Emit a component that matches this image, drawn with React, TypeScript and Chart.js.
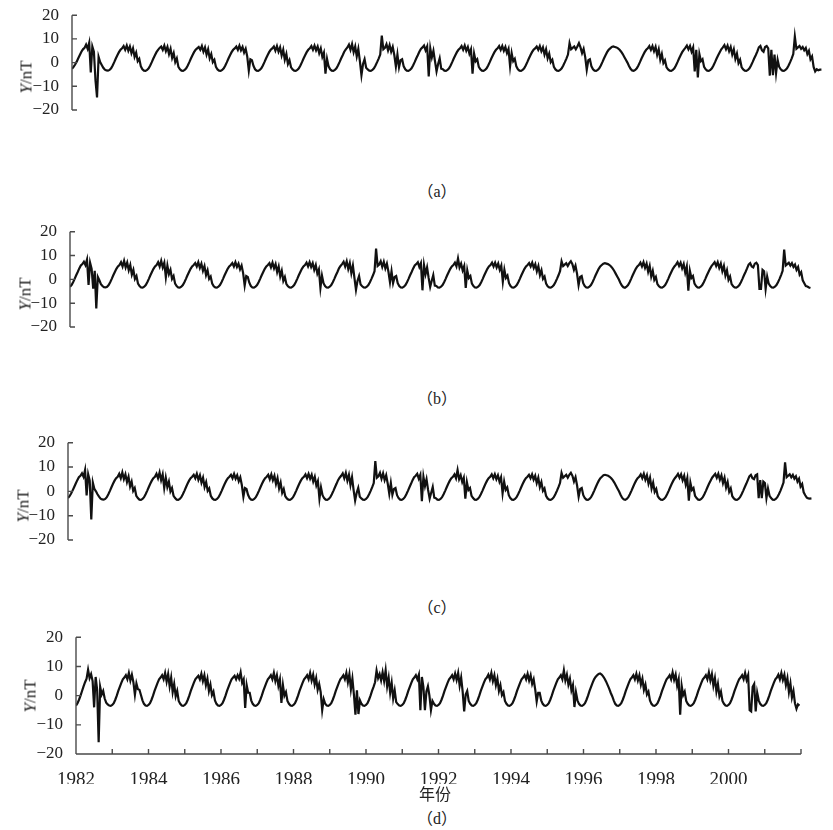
import React, { useEffect, useRef } from 'react';
import { Chart, registerables } from 'chart.js';
Chart.register(...registerables);

// ---------------- data (24 samples per year, 1982-2001) ----------------
const START_YEAR = 1982;
const END_YEAR = 2002;
const Y_TICKS = [-20, -10, 0, 10, 20];
const X_TICK_YEARS = [1982, 1983, 1984, 1985, 1986, 1987, 1988, 1989, 1990, 1991, 1992, 1993, 1994, 1995, 1996, 1997, 1998, 1999, 2000, 2001, 2002];
const X_LABEL_YEARS = [1982, 1984, 1986, 1988, 1990, 1992, 1994, 1996, 1998, 2000];
const PANEL_LETTERS = ['a', 'b', 'c', 'd'];
const X_TITLE = '年份';

const seriesA = [
  [-2.6,-1.8,-0.8,0.4,1.8,3.2,4.6,5.6,6.2,7.6,5.8,8.4,-4.2,6.8,4.6,-7.4,-14.7,2.4,0.2,-1.0,-2.2,-3.0,-3.3,-3.4],
  [-3.1,-2.4,-1.2,0.2,1.7,3.1,4.4,5.4,6.0,7.0,5.4,7.2,5.0,6.8,4.0,6.0,2.4,4.2,0.6,1.6,-1.6,-2.8,-3.4,-3.5],
  [-3.1,-2.4,-1.2,0.2,1.7,3.1,4.4,5.4,6.2,6.8,5.4,7.2,4.8,6.6,3.6,5.8,2.0,4.0,0.2,1.8,-1.8,-2.8,-3.4,-3.5],
  [-3.1,-2.4,-1.2,0.2,1.7,3.1,4.4,5.4,6.0,6.6,5.4,7.0,4.6,6.4,3.4,5.6,1.8,3.6,0.2,1.2,-1.8,-2.9,-3.4,-3.5],
  [-3.1,-2.4,-1.2,0.2,1.7,3.1,4.4,5.4,6.0,6.8,5.4,7.2,5.2,6.6,4.2,5.8,2.6,-3.4,1.4,1.0,-1.4,-2.8,-3.4,-3.5],
  [-3.1,-2.4,-1.2,0.2,1.7,3.1,4.4,5.4,6.0,6.8,5.0,7.0,4.6,6.4,3.0,5.4,1.2,3.6,-0.6,1.0,-2.0,-2.9,-3.4,-3.5],
  [-3.1,-2.4,-1.2,0.2,1.7,3.1,4.4,5.4,6.0,7.0,5.4,7.2,5.2,6.8,4.0,6.0,2.4,4.2,-4.7,1.6,-1.6,-2.8,-3.4,-3.5],
  [-3.1,-2.4,-1.2,0.2,1.7,3.1,4.6,5.6,6.4,7.6,5.4,7.8,4.4,6.8,2.6,5.8,0.6,-5.3,-0.6,1.4,-2.2,-2.9,-3.4,-3.5],
  [-3.1,-2.4,-1.2,0.2,1.7,3.4,11.4,5.6,6.2,7.8,5.2,7.4,4.6,6.6,3.2,-1.6,3.4,-2.0,1.0,1.4,-1.6,-2.8,-3.4,-3.5],
  [-3.1,-2.4,-1.2,0.2,1.7,3.1,4.6,5.8,6.4,7.2,5.2,6.8,-5.8,6.0,2.2,5.0,0.6,-3.7,-0.6,1.8,-2.6,-2.8,-3.4,-3.5],
  [-3.1,-2.4,-1.2,0.2,1.7,3.1,4.4,5.4,6.0,7.0,5.4,7.2,5.0,6.6,3.8,5.6,-4.7,3.8,0.6,1.4,-1.8,-2.8,-3.4,-3.5],
  [-3.1,-2.4,-1.2,0.2,1.7,3.1,4.4,5.4,6.0,7.0,5.4,7.0,5.0,6.6,4.0,5.8,-1.5,4.0,0.6,1.6,-1.6,-2.8,-3.4,-3.5],
  [-3.1,-2.4,-1.2,0.2,1.7,3.1,4.4,5.4,6.0,6.8,5.4,7.0,4.8,6.4,3.4,5.6,1.8,3.8,0.2,1.2,-1.8,-2.9,-3.4,-3.5],
  [-3.1,-2.4,-1.2,0.2,1.7,3.4,8.2,5.6,6.2,6.8,5.6,6.8,8.2,6.4,4.0,5.8,2.4,-3.0,1.0,1.4,-1.6,-2.8,-3.4,-3.5],
  [-3.1,-2.4,-1.2,0.2,1.7,3.1,4.4,5.4,6.0,6.6,6.8,6.6,6.4,6.0,5.4,4.6,3.6,2.4,1.2,0.0,-1.4,-2.6,-3.3,-3.5],
  [-3.1,-2.4,-1.2,0.2,1.7,3.1,4.4,5.4,6.0,7.0,5.4,7.0,4.8,6.6,3.2,5.6,1.2,3.6,-0.2,1.0,-2.0,-2.9,-3.4,-3.5],
  [-3.1,-2.4,-1.2,0.2,1.7,3.1,4.4,5.4,6.2,7.2,5.6,7.0,4.6,6.4,-3.7,5.4,-6.3,3.6,0.6,1.4,-1.8,-2.8,-3.4,-3.5],
  [-3.1,-2.4,-1.2,0.2,1.7,3.1,4.4,5.6,6.4,7.4,5.6,7.2,4.8,6.6,3.4,5.6,1.6,3.8,-0.2,1.2,-2.0,-2.9,-3.4,-3.5],
  [-3.1,-2.4,-1.2,0.2,1.7,3.1,4.6,6.4,7.0,5.2,4.6,6.6,7.0,6.0,-5.5,5.4,-5.3,3.4,-4.4,1.2,-1.8,-2.8,-3.4,-3.5],
  [-3.1,-2.4,-1.2,0.2,1.8,3.6,11.0,5.8,6.4,7.0,5.8,6.6,5.2,6.2,3.6,5.0,1.4,2.6,-1.8,-3.7,-2.8,-3.2,-3.0,-3.0],
];

const seriesB = [
  [-3.1,-2.4,-1.2,0.2,1.7,3.1,4.6,5.8,6.4,7.4,6.0,8.3,-2.3,7.0,4.4,-3.9,3.6,-12.2,1.0,-0.4,-2.0,-2.8,-3.3,-3.4],
  [-3.1,-2.4,-1.2,0.2,1.7,3.1,4.4,5.4,6.0,7.2,5.4,7.8,5.0,7.0,3.8,6.0,2.0,4.0,0.2,1.4,-1.8,-2.8,-3.4,-3.5],
  [-3.1,-2.4,-1.2,0.2,1.7,3.1,4.4,5.4,6.0,7.2,5.4,7.8,5.0,7.0,0.9,5.8,2.2,4.0,0.2,1.4,-1.8,-2.8,-3.4,-3.5],
  [-3.1,-2.4,-1.2,0.2,1.7,3.1,4.4,5.4,6.0,6.8,5.4,7.2,4.8,6.6,3.6,5.6,1.8,3.8,0.2,1.2,-1.8,-2.9,-3.4,-3.5],
  [-3.1,-2.4,-1.2,0.2,1.7,3.1,4.4,5.4,6.0,6.8,5.4,7.2,5.2,6.6,4.2,5.8,2.6,-2.6,1.4,1.0,-1.4,-2.8,-3.4,-3.5],
  [-3.1,-2.4,-1.2,0.2,1.7,3.1,4.4,5.4,6.0,6.8,5.0,7.0,4.6,6.4,3.0,5.4,1.2,3.6,-0.6,1.0,-2.0,-2.9,-3.4,-3.5],
  [-3.1,-2.4,-1.2,0.2,1.7,3.1,4.4,5.4,6.0,7.0,5.4,7.2,5.2,6.8,4.0,6.0,2.4,4.2,-3.6,1.6,-1.6,-2.8,-3.4,-3.5],
  [-3.1,-2.4,-1.2,0.2,1.7,3.1,4.6,5.6,6.4,7.4,5.4,7.6,4.4,6.8,2.6,5.8,0.6,-4.4,-0.6,1.4,-2.2,-2.9,-3.4,-3.5],
  [-3.1,-2.4,-1.2,0.2,1.7,3.4,12.9,5.6,6.2,7.6,5.2,7.4,4.6,6.6,3.2,-1.2,3.4,-1.6,1.0,1.4,-1.6,-2.8,-3.4,-3.5],
  [-3.1,-2.4,-1.2,0.2,1.7,3.1,4.6,5.8,6.4,7.2,5.2,6.8,-4.6,6.0,2.2,5.0,0.6,-3.2,-0.6,1.8,-2.6,-2.8,-3.4,-3.5],
  [-3.1,-2.4,-1.2,0.2,1.7,3.1,4.4,5.4,6.0,7.0,5.4,8.8,5.0,6.6,3.8,5.6,-3.6,3.8,0.6,1.4,-1.8,-2.8,-3.4,-3.5],
  [-3.1,-2.4,-1.2,0.2,1.7,3.1,4.4,5.4,6.0,7.0,5.4,7.0,5.0,6.6,4.0,5.8,-1.0,4.0,0.6,1.6,-1.6,-2.8,-3.4,-3.5],
  [-3.1,-2.4,-1.2,0.2,1.7,3.1,4.4,5.4,6.0,6.8,5.4,7.0,4.8,6.4,3.4,5.6,1.8,3.8,0.2,1.2,-1.8,-2.9,-3.4,-3.5],
  [-3.1,-2.4,-1.2,0.2,1.7,3.4,7.6,5.6,6.2,6.8,5.6,6.8,7.6,6.4,4.0,5.8,2.4,-2.4,1.0,1.4,-1.6,-2.8,-3.4,-3.5],
  [-3.1,-2.4,-1.2,0.2,1.7,3.1,4.4,5.4,6.0,6.6,6.8,6.6,6.4,6.0,5.4,4.6,3.6,2.4,1.2,0.0,-1.4,-2.6,-3.3,-3.5],
  [-3.1,-2.4,-1.2,0.2,1.7,3.1,4.4,5.4,6.0,7.0,5.4,7.2,4.8,6.6,3.2,5.6,1.2,3.6,-0.2,1.0,-2.0,-2.9,-3.4,-3.5],
  [-3.1,-2.4,-1.2,0.2,1.7,3.1,4.4,5.4,6.2,7.2,5.6,7.0,4.6,6.4,2.8,5.4,-4.8,3.6,0.6,1.4,-1.8,-2.8,-3.4,-3.5],
  [-3.1,-2.4,-1.2,0.2,1.7,3.1,4.4,5.6,6.4,7.2,5.6,7.2,4.8,6.6,3.4,5.6,1.6,3.8,-0.2,1.2,-2.0,-2.9,-3.4,-3.5],
  [-3.1,-2.4,-1.2,0.2,1.7,3.1,4.6,6.2,6.8,5.4,5.0,6.6,7.0,6.0,-4.0,-4.0,4.0,3.4,-4.0,1.2,-1.8,-2.8,-3.4,-3.5],
  [-3.1,-2.4,-1.2,0.2,1.8,3.6,12.5,5.8,6.4,7.0,5.8,6.8,5.2,6.2,4.0,5.2,2.0,3.0,-0.4,-1.6,-2.8,-3.0,-3.4,-3.6],
];

const seriesC = [
  [-2.7,-2.0,-0.9,0.4,1.8,3.2,4.6,5.8,6.4,7.4,6.0,8.8,-1.7,7.0,4.4,-11.6,3.6,1.0,0.0,-1.2,-2.2,-3.0,-3.3,-3.4],
  [-3.1,-2.4,-1.2,0.2,1.7,3.1,4.4,5.4,6.0,7.2,5.4,7.8,5.0,7.0,3.8,6.0,2.0,4.0,0.2,1.4,-1.8,-2.8,-3.4,-3.5],
  [-3.1,-2.4,-1.2,0.2,1.7,3.1,4.4,5.4,6.0,7.2,5.4,7.8,4.6,7.0,1.4,5.6,1.8,4.0,0.0,1.4,-1.8,-2.8,-3.4,-3.5],
  [-3.1,-2.4,-1.2,0.2,1.7,3.1,4.4,5.4,6.0,6.8,5.4,7.2,4.8,6.6,3.6,5.6,1.8,3.8,0.2,1.2,-1.8,-2.9,-3.4,-3.5],
  [-3.1,-2.4,-1.2,0.2,1.7,3.1,4.4,5.4,6.0,6.8,5.4,7.2,5.2,6.6,4.2,5.8,2.6,-2.2,1.4,1.0,-1.4,-2.8,-3.4,-3.5],
  [-3.1,-2.4,-1.2,0.2,1.7,3.1,4.4,5.4,6.0,6.8,5.0,7.0,4.6,6.4,3.0,5.4,1.2,3.6,-0.6,1.0,-2.0,-2.9,-3.4,-3.5],
  [-3.1,-2.4,-1.2,0.2,1.7,3.1,4.4,5.4,6.0,7.0,5.4,7.2,5.2,6.8,4.0,6.0,2.4,4.2,-3.0,1.6,-1.6,-2.8,-3.4,-3.5],
  [-3.1,-2.4,-1.2,0.2,1.7,3.1,4.6,5.6,6.4,7.4,5.4,7.6,4.4,6.8,2.6,5.8,0.6,-3.8,-0.6,1.4,-2.2,-2.9,-3.4,-3.5],
  [-3.1,-2.4,-1.2,0.2,1.7,3.4,12.4,5.6,6.2,7.6,5.2,7.4,4.6,6.6,3.2,-1.0,3.4,-1.4,1.0,1.4,-1.6,-2.8,-3.4,-3.5],
  [-3.1,-2.4,-1.2,0.2,1.7,3.1,4.6,5.8,6.4,7.2,5.2,6.8,-4.0,6.0,2.2,5.0,0.6,-3.0,-0.6,1.8,-2.6,-2.8,-3.4,-3.5],
  [-3.1,-2.4,-1.2,0.2,1.7,3.1,4.4,5.4,6.0,7.0,5.4,8.8,5.0,6.6,3.8,5.6,-3.0,3.8,0.6,1.4,-1.8,-2.8,-3.4,-3.5],
  [-3.1,-2.4,-1.2,0.2,1.7,3.1,4.4,5.4,6.0,7.0,5.4,7.0,5.0,6.6,4.0,5.8,-0.8,4.0,0.6,1.6,-1.6,-2.8,-3.4,-3.5],
  [-3.1,-2.4,-1.2,0.2,1.7,3.1,4.4,5.4,6.0,6.8,5.4,7.0,4.8,6.4,3.4,5.6,1.8,3.8,0.2,1.2,-1.8,-2.9,-3.4,-3.5],
  [-3.1,-2.4,-1.2,0.2,1.7,3.4,7.6,5.6,6.2,6.8,5.6,6.8,7.6,6.4,4.0,5.8,2.4,-2.2,1.0,1.4,-1.6,-2.8,-3.4,-3.5],
  [-3.1,-2.4,-1.2,0.2,1.7,3.1,4.4,5.4,6.0,6.6,6.8,6.6,6.4,6.0,5.4,4.6,3.6,2.4,1.2,0.0,-1.4,-2.6,-3.3,-3.5],
  [-3.1,-2.4,-1.2,0.2,1.7,3.1,4.4,5.4,6.0,7.0,5.4,7.2,4.8,6.6,3.2,5.6,1.2,3.6,-0.2,1.0,-2.0,-2.9,-3.4,-3.5],
  [-3.1,-2.4,-1.2,0.2,1.7,3.1,4.4,5.4,6.2,7.2,5.6,7.0,4.6,6.4,2.8,5.4,-3.8,3.6,0.6,1.4,-1.8,-2.8,-3.4,-3.5],
  [-3.1,-2.4,-1.2,0.2,1.7,3.1,4.4,5.6,6.4,7.2,5.6,7.2,4.8,6.6,3.4,5.6,1.6,3.8,-0.2,1.2,-2.0,-2.9,-3.4,-3.5],
  [-3.1,-2.4,-1.2,0.2,1.7,3.1,4.6,6.2,6.8,5.4,5.0,6.6,7.0,-2.8,4.6,-2.8,4.0,3.4,-2.8,1.2,-1.8,-2.8,-3.4,-3.5],
  [-3.1,-2.4,-1.2,0.2,1.8,3.6,11.9,5.8,6.4,7.0,5.8,6.8,5.2,6.2,4.0,5.2,2.0,3.0,-0.4,-1.6,-2.6,-2.9,-3.0,-2.9],
];

const seriesD = [
  [-3.4,-2.6,-1.4,0.0,1.6,3.2,4.6,5.8,8.9,6.0,7.4,5.0,-4.0,6.4,2.0,-16.0,3.0,0.4,1.6,-1.0,-2.4,-3.0,-3.4,-3.5],
  [-3.2,-2.6,-1.4,0.0,1.6,3.0,4.4,5.6,6.2,7.0,5.6,7.8,5.2,7.2,4.6,0.3,4.2,2.2,2.0,0.2,-1.6,-2.8,-3.4,-3.5],
  [-3.2,-2.6,-1.4,0.0,1.6,3.0,4.4,5.6,6.2,7.0,5.6,7.8,4.8,7.4,3.2,6.2,1.2,4.0,-0.2,1.6,-1.8,-2.8,-3.4,-3.5],
  [-3.2,-2.6,-1.4,0.0,1.6,3.0,4.4,5.6,6.2,6.8,5.6,7.5,5.0,7.0,3.6,5.8,1.6,3.8,0.2,1.4,-1.6,-2.8,-3.4,-3.5],
  [-3.2,-2.6,-1.4,0.0,1.6,3.0,4.4,5.6,6.2,6.8,5.6,7.0,5.8,8.0,4.4,5.6,-4.2,3.6,1.0,1.0,-1.6,-2.8,-3.4,-3.5],
  [-3.2,-2.6,-1.4,0.0,1.6,3.0,4.4,5.6,6.2,7.0,5.6,7.8,5.0,7.0,3.4,5.6,-2.5,3.6,0.0,1.2,-1.8,-2.8,-3.4,-3.5],
  [-3.2,-2.6,-1.4,0.0,1.6,3.0,4.4,5.6,6.2,7.0,5.6,7.8,5.2,7.2,3.8,6.0,2.0,4.0,1.2,-5.0,-1.2,-2.8,-3.4,-3.5],
  [-3.2,-2.6,-1.4,0.0,1.6,3.0,4.4,5.6,6.2,7.0,5.6,7.8,4.6,7.4,2.2,5.8,0.4,-6.5,1.8,-6.3,-1.6,-2.8,-3.4,-3.5],
  [-3.2,-2.6,-1.4,0.0,1.6,3.0,4.6,8.6,6.0,7.4,5.2,8.0,5.0,8.7,3.2,6.2,1.0,4.4,-1.0,1.8,-2.2,-2.9,-3.4,-3.5],
  [-3.2,-2.6,-1.4,0.0,1.6,3.0,4.4,5.6,6.2,7.0,5.6,7.2,-5.0,6.4,3.0,-5.0,1.4,3.2,0.0,-5.0,-1.8,-2.8,-3.4,-3.5],
  [-3.2,-2.6,-1.4,0.0,1.6,3.0,4.4,5.6,6.2,7.0,5.6,7.6,5.4,7.8,3.4,6.2,1.4,-5.4,0.4,1.6,-1.8,-2.8,-3.4,-3.5],
  [-3.2,-2.6,-1.4,0.0,1.6,3.0,4.4,5.6,6.2,7.2,5.6,7.8,5.0,7.0,3.6,5.8,1.6,3.6,0.2,1.2,-1.8,-2.8,-3.4,-3.5],
  [-3.2,-2.6,-1.4,0.0,1.6,3.0,4.4,5.6,6.2,7.0,5.6,7.5,5.2,7.0,4.0,5.6,2.2,-2.0,1.0,1.0,-1.6,-2.8,-3.4,-3.5],
  [-3.2,-2.6,-1.4,0.0,1.6,3.0,4.4,5.6,6.2,7.0,5.6,8.7,5.2,7.2,3.8,5.8,1.8,3.6,-3.9,1.2,-1.6,-2.8,-3.4,-3.5],
  [-3.2,-2.6,-1.4,0.0,1.6,3.0,4.4,5.6,6.4,7.0,7.4,7.6,7.2,6.6,5.8,4.8,3.6,2.4,1.0,-0.2,-1.6,-2.8,-3.4,-3.5],
  [-3.2,-2.6,-1.4,0.0,1.6,3.0,4.4,5.6,6.2,7.0,5.6,7.5,5.2,7.0,3.8,5.8,2.0,3.8,0.4,1.4,-1.6,-2.8,-3.4,-3.5],
  [-3.2,-2.6,-1.4,0.0,1.6,3.0,4.4,5.6,6.2,7.0,5.6,8.0,5.4,7.2,3.4,5.6,-6.5,3.4,0.2,1.4,-1.8,-2.8,-3.4,-3.5],
  [-3.2,-2.6,-1.4,0.0,1.6,3.0,4.4,5.6,6.2,7.0,5.6,8.0,5.2,7.4,3.4,6.0,1.4,4.0,-0.2,1.4,-1.8,-2.8,-3.4,-3.5],
  [-3.2,-2.6,-1.4,0.0,1.6,3.0,4.4,5.6,6.2,7.0,5.6,7.8,5.4,7.0,-5.0,-5.4,3.0,4.0,-5.4,1.0,-1.6,-2.8,-3.4,-3.5],
  [-3.2,-2.6,-1.4,0.0,1.6,3.0,4.4,5.6,6.2,7.2,5.6,7.8,5.4,7.2,3.6,6.0,1.2,4.2,-0.6,1.6,-2.6,-4.5,-3.0,-3.4],
];

// ---------------- layout ----------------
const PAGE_W = 833;
type Panel = {
  rows: number[][]; left: number; right: number; top: number; bottom: number;
  canvasTop: number; canvasH: number; showX: boolean;
  titleX: number; labelY: number;
};
const X_AXIS_H = 30;
const PANELS: Panel[] = [
  { rows: seriesA, left: 72, right: 823, top: 13.3, bottom: 140, canvasTop: 0, canvasH: 165, showX: false, titleX: 26, labelY: 191 },
  { rows: seriesB, left: 70, right: 812, top: 231.7, bottom: 357, canvasTop: 212, canvasH: 165, showX: false, titleX: 25, labelY: 398 },
  { rows: seriesC, left: 68, right: 813, top: 442.7, bottom: 570, canvasTop: 424, canvasH: 165, showX: false, titleX: 23, labelY: 607 },
  { rows: seriesD, left: 76, right: 801, top: 637.3, bottom: 754, canvasTop: 622, canvasH: 168, showX: true, titleX: 30, labelY: 818 },
];

const SERIF = '"Liberation Serif", "Times New Roman", serif';
const fmt = (v: number) => (v < 0 ? '\u2212' + Math.abs(v) : String(v));

const inwardAxes = {
  id: 'inwardAxes',
  afterDraw(chart: any, _a: any, opts: any) {
    const { ctx, chartArea } = chart;
    const ys = chart.scales.y;
    const xs = chart.scales.x;
    ctx.save();
    ctx.strokeStyle = '#4a4a4a';
    ctx.lineWidth = 1.4;
    ctx.beginPath();
    const x0 = chartArea.left;
    ctx.moveTo(x0, ys.getPixelForValue(20));
    ctx.lineTo(x0, ys.getPixelForValue(-20));
    for (const v of Y_TICKS) {
      const py = ys.getPixelForValue(v);
      ctx.moveTo(x0, py);
      ctx.lineTo(x0 + 5, py);
    }
    if (opts && opts.showX) {
      const yb = ys.getPixelForValue(-20);
      ctx.moveTo(xs.getPixelForValue(START_YEAR), yb);
      ctx.lineTo(xs.getPixelForValue(END_YEAR), yb);
      for (const yr of X_TICK_YEARS) {
        const px = xs.getPixelForValue(yr);
        ctx.moveTo(px, yb);
        ctx.lineTo(px, yb - 5);
      }
    }
    ctx.stroke();
    ctx.restore();
  },
};

function PanelChart({ p }: { p: Panel }) {
  const ref = useRef<HTMLCanvasElement>(null);
  useEffect(() => {
    if (!ref.current) return;
    const pts: { x: number; y: number }[] = [];
    p.rows.forEach((row, yi) => {
      row.forEach((v, k) => pts.push({ x: START_YEAR + yi + k / row.length, y: v }));
    });
    const padTop = p.top - p.canvasTop;
    const padBottom = p.canvasTop + p.canvasH - p.bottom - (p.showX ? X_AXIS_H : 0);
    const chart = new Chart(ref.current, {
      type: 'line',
      data: {
        datasets: [
          {
            data: pts,
            borderColor: '#111',
            borderWidth: 2.2,
            borderJoinStyle: 'miter',
            pointRadius: 0,
            tension: 0,
            fill: false,
          },
        ],
      },
      options: {
        animation: false,
        responsive: false,
        maintainAspectRatio: false,
        events: [],
        layout: {
          autoPadding: false,
          padding: { left: 0, right: PAGE_W - p.right, top: padTop, bottom: padBottom },
        },
        plugins: {
          legend: { display: false },
          tooltip: { enabled: false },
          inwardAxes: { showX: p.showX },
        } as any,
        scales: {
          x: {
            type: 'linear',
            min: START_YEAR,
            max: END_YEAR,
            display: p.showX,
            grid: { display: false },
            border: { display: false },
            ticks: {
              autoSkip: false,
              maxRotation: 0,
              padding: 7,
              color: '#222',
              font: { family: SERIF, size: 19 },
              callback: (v: any) => (X_LABEL_YEARS.includes(Number(v)) ? String(v) : ''),
            },
            afterBuildTicks: (s: any) => {
              s.ticks = X_TICK_YEARS.map((v) => ({ value: v }));
            },
            afterFit: (s: any) => {
              s.height = X_AXIS_H;
            },
          },
          y: {
            min: -20,
            max: 20,
            grid: { display: false },
            border: { display: false },
            ticks: {
              autoSkip: false,
              padding: 5,
              color: '#222',
              font: { family: SERIF, size: 17 },
              callback: (v: any) => fmt(Number(v)),
            },
            afterBuildTicks: (s: any) => {
              s.ticks = Y_TICKS.map((v) => ({ value: v }));
            },
            afterFit: (s: any) => {
              s.width = p.left;
            },
          },
        },
      },
      plugins: [inwardAxes as any],
    });
    return () => chart.destroy();
  }, [p]);
  return (
    <canvas
      ref={ref}
      width={PAGE_W}
      height={p.canvasH}
      style={{ position: 'absolute', left: 0, top: p.canvasTop, width: PAGE_W, height: p.canvasH }}
    />
  );
}

export default function App() {
  return (
    <div style={{ position: 'absolute', left: 0, top: 0, width: PAGE_W, height: 830, background: '#fff', overflow: 'hidden' }}>
      {PANELS.map((p, i) => (
        <React.Fragment key={i}>
          <PanelChart p={p} />
          <div
            style={{
              position: 'absolute',
              left: p.titleX,
              top: (p.top + p.bottom) / 2,
              transform: 'translate(-50%, -50%) rotate(-90deg)',
              fontFamily: SERIF,
              fontSize: 17,
              fontWeight: 400,
              color: '#222',
              whiteSpace: 'nowrap',
              lineHeight: 1,
            }}
          >
            <i>Y</i>/nT
          </div>
          <div
            style={{
              position: 'absolute',
              left: 437,
              top: p.labelY,
              transform: 'translate(-50%, -50%)',
              fontFamily: SERIF,
              fontSize: 16,
              color: '#222',
              whiteSpace: 'nowrap',
              lineHeight: 1,
            }}
          >
            <span style={{ fontFamily: '"Noto Sans CJK SC", sans-serif' }}>（</span>
            {PANEL_LETTERS[i]}
            <span style={{ fontFamily: '"Noto Sans CJK SC", sans-serif' }}>）</span>
          </div>
        </React.Fragment>
      ))}
      <div
        style={{
          position: 'absolute',
          left: 435,
          top: 793,
          transform: 'translate(-50%, -50%)',
          fontFamily: '"Noto Sans CJK SC", sans-serif',
          fontSize: 16,
          color: '#222',
          whiteSpace: 'nowrap',
          lineHeight: 1,
        }}
      >
        {X_TITLE}
      </div>
    </div>
  );
}
